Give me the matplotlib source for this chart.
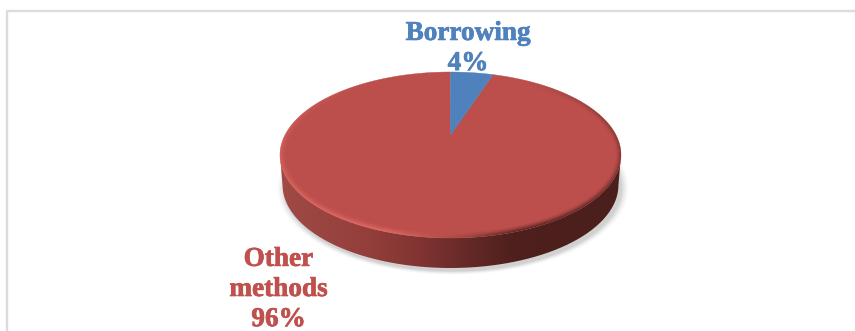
import numpy as np
import matplotlib
matplotlib.use('Agg')
import matplotlib.pyplot as plt
from matplotlib.path import Path
from matplotlib.patches import PathPatch
from matplotlib.colors import LinearSegmentedColormap
import matplotlib.patheffects as pe

labels = ['Borrowing', 'Other\nmethods']
shares = [4, 96]
colors = ['#4f81bd', '#bc4f4c']
label_colors = ['#4f81bd', '#c0504d']

W, H = 855, 331

# disc geometry, in pixels
cx, cy = 450.5, 155.0
a, b = 170.5, 83.0
depth = 30.0
apex = (450.5, 135.0)

fig = plt.figure(figsize=(W/100, H/100), dpi=100)
ax = fig.add_axes([0, 0, 1, 1])
ax.set_xlim(0, W)
ax.set_ylim(H, 0)
ax.axis('off')

# frame, only top and left sides show
ax.plot([7, 7, W], [H, 10.5, 10.5], color='#dcdcdc', lw=1.7, solid_joinstyle='miter')

xx, yy = np.meshgrid(np.arange(W)+0.5, np.arange(H)+0.5)

# soft shadow under the disc
d = np.sqrt(((xx-cx-2)/(a*0.985))**2 + ((yy-cy-depth-3)/b)**2)
shadow = np.clip((1.05-d)/0.05, 0, 1)**1.5*0.30
rgba = np.zeros((H, W, 4))
rgba[..., :3] = 0.4
rgba[..., 3] = shadow
ax.imshow(rgba, extent=(0, W, H, 0), zorder=1, interpolation='bilinear', aspect='auto')

# side wall, the lower edge is a little narrower than the top face
t = np.linspace(0, np.pi, 200)
top_x = cx+a*np.cos(t)
top_y = cy+b*np.sin(t)
low_x = cx+a*0.985*np.cos(t)
wall_x = np.r_[top_x, low_x[::-1]]
wall_y = np.r_[top_y, top_y[::-1]+depth]
wall = Path(np.c_[wall_x, wall_y])
wall_cmap = LinearSegmentedColormap.from_list('wall', [
    (0.0, '#a04a46'), (0.25, '#943f3b'), (0.42, '#7f3331'), (0.55, '#652927'),
    (0.68, '#4f201d'), (1.0, '#4a1f1c')])
im = ax.imshow(np.linspace(0, 1, 256)[None, :], cmap=wall_cmap, aspect='auto',
               extent=(cx-a, cx+a, cy+b+depth+2, cy), zorder=2)
im.set_clip_path(PathPatch(wall, transform=ax.transData))

# top face, wedges come from the shares
frac = np.cumsum([0]+shares)/sum(shares)
for i in [1, 0]:
    th = np.linspace(frac[i], frac[i+1], 300)*2*np.pi
    px = cx+a*np.sin(th)
    py = cy-b*np.cos(th)
    ax.fill(np.r_[apex[0], px], np.r_[apex[1], py], color=colors[i], lw=0.3, zorder=3)

# bevel around the rim of the top face, width measured in pixels
dx, dy = xx-cx, yy-cy
r = np.sqrt((dx/a)**2 + (dy/b)**2)
grad = np.sqrt((dx/a**2)**2 + (dy/b**2)**2)/np.maximum(r, 1e-3)
dist = (1-r)/np.maximum(grad, 1e-4)
band = np.clip(1-dist/6.5, 0, 1)
ang = np.arctan2(dy, dx)
light = np.clip(np.cos(ang-np.radians(135)), 0, 1)**1.5
dark = np.clip(np.cos(ang-np.radians(40)), 0, 1)**1.5
mix = dark/np.maximum(light+dark, 1e-3)
bevel = np.zeros((H, W, 4))
bevel[..., :3] = (1-mix[..., None])*np.array([0.93, 0.44, 0.42]) + mix[..., None]*np.array([0.27, 0.11, 0.10])
bevel[..., 3] = band**1.6*np.maximum(light*0.8, dark*0.95)
bim = ax.imshow(bevel, extent=(0, W, H, 0), zorder=4, interpolation='bilinear', aspect='auto')
th = np.linspace(0, 2*np.pi, 400)
bim.set_clip_path(PathPatch(Path(np.c_[cx+a*np.cos(th), cy+b*np.sin(th)]), transform=ax.transData))

ax.set_xlim(0, W)
ax.set_ylim(H, 0)

# labels
font = dict(family='Liberation Serif', weight='bold', fontsize=19.6, ha='center', va='center', linespacing=1.27)
for x, y, s, c in [(468, 48.5, '%s\n%d%%' % (labels[0], shares[0]), label_colors[0]),
                   (278.5, 289.5, '%s\n%d%%' % (labels[1], shares[1]), label_colors[1])]:
    txt = ax.text(x, y, s, color=c, zorder=5, **font)
    txt.set_path_effects([pe.withStroke(linewidth=0.5, foreground=c)])

fig.savefig('out.png', dpi=100)
